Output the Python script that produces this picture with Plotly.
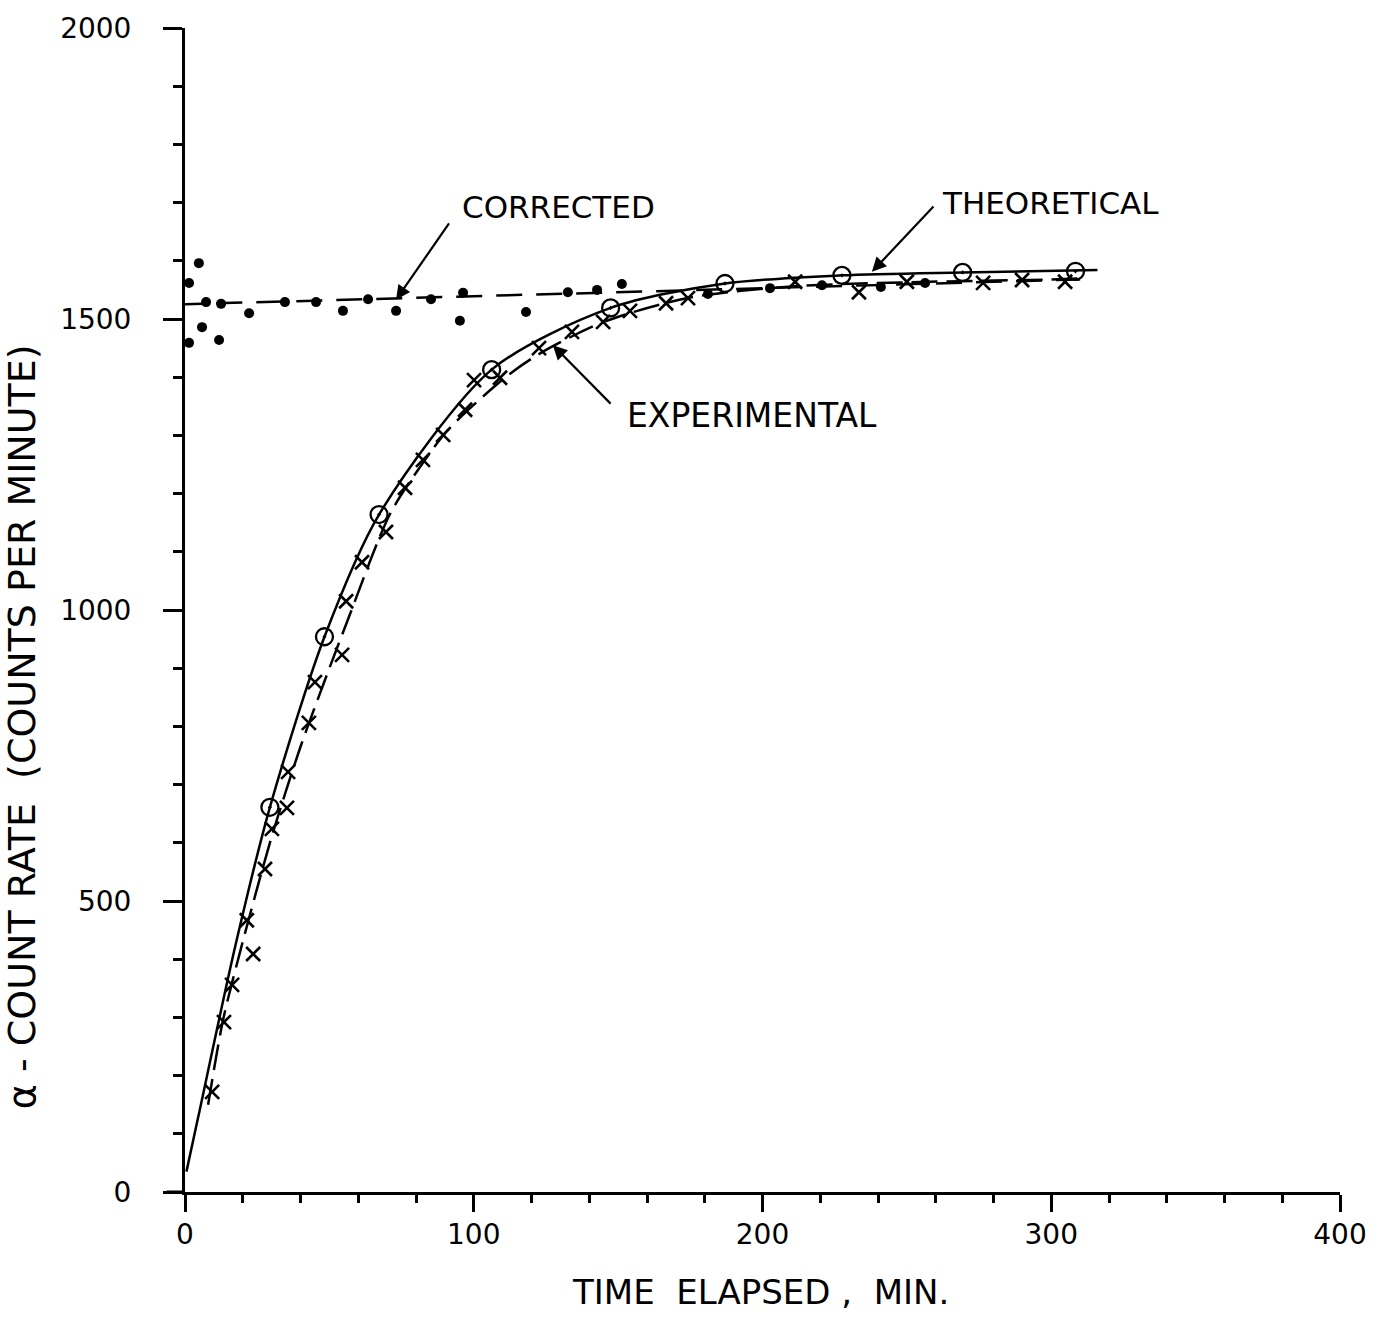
import plotly.graph_objects as go

# ---- data ----
# Corrected (dots)
corr_t = [1.4, 4.8, 7.3, 5.9, 1.4, 12.5, 11.8, 22.2, 34.6, 45.4, 54.7, 63.4, 73.1, 85.2, 96.3, 95.2,
          118.1, 132.6, 142.7, 151.3, 181.1, 202.6, 220.6, 241.0, 256.3]
corr_v = [1562, 1596, 1529, 1486, 1459, 1526, 1464, 1510, 1529, 1529, 1514, 1534, 1514, 1534, 1545, 1497,
          1512, 1546, 1550, 1560, 1543, 1553, 1558, 1555, 1562]
corr_line_t = [-3, 310]
corr_line_v = [1525, 1568]

# Theoretical (circled dots) and its curve
theo_t = [29.4, 48.3, 67.2, 106.2, 147.4, 187.0, 227.5, 269.3, 308.4]
theo_v = [661, 954, 1164, 1413, 1519, 1561, 1575, 1580, 1582]
theo_line_t = [0.5, 4.5, 17.3, 29.4, 48.3, 67.2, 106.2, 147.4, 187.0, 227.5, 269.3, 316]
theo_line_v = [35, 127, 420, 661, 954, 1164, 1413, 1519, 1561, 1575, 1580, 1584]

# Experimental (crosses) and its curve
exp_t = [9.4, 13.5, 16.3, 21.4, 23.6, 27.7, 30.1, 35.3, 35.7, 42.9, 45.0, 54.4, 55.8, 61.3, 69.6, 76.2,
         82.4, 89.4, 97.0, 100.1, 109.1, 122.6, 134.0, 144.8, 154.1, 166.6, 174.2, 211.3, 233.4, 250.0,
         276.4, 289.9, 304.8]
exp_v = [172, 292, 356, 467, 409, 555, 624, 660, 722, 806, 876, 923, 1015, 1082, 1134, 1210,
         1258, 1301, 1344, 1395, 1399, 1450, 1478, 1495, 1514, 1527, 1536, 1564, 1546, 1564,
         1562, 1567, 1564]
exp_line_t = [8, 13.2, 20, 30, 40, 50, 56, 71, 82, 91, 111, 123, 145, 174, 210, 250, 300, 312]
exp_line_v = [150, 296, 430, 610, 765, 900, 978, 1165, 1250, 1309, 1400, 1441, 1495, 1536, 1556, 1563, 1568, 1570]

x_ticks = [0, 100, 200, 300, 400]
y_ticks = [0, 500, 1000, 1500, 2000]

FONT = "DejaVu Sans"
BLACK = "black"

fig = go.Figure()

# curves
fig.add_trace(go.Scatter(x=corr_line_t, y=corr_line_v, mode="lines",
                         line=dict(color=BLACK, width=2.5, dash="26px,14px"), cliponaxis=False))
fig.add_trace(go.Scatter(x=theo_line_t, y=theo_line_v, mode="lines",
                         line=dict(color=BLACK, width=2.5, shape="spline", smoothing=0.8), cliponaxis=False))
fig.add_trace(go.Scatter(x=exp_line_t, y=exp_line_v, mode="lines",
                         line=dict(color=BLACK, width=2.5, dash="26px,9px", shape="spline", smoothing=0.8),
                         cliponaxis=False))

# markers
fig.add_trace(go.Scatter(x=corr_t, y=corr_v, mode="markers",
                         marker=dict(symbol="circle", size=10, color=BLACK), cliponaxis=False))
fig.add_trace(go.Scatter(x=theo_t, y=theo_v, mode="markers",
                         marker=dict(symbol="circle-open-dot", size=17, color=BLACK,
                                     line=dict(color=BLACK, width=2.3)), cliponaxis=False))
fig.add_trace(go.Scatter(x=exp_t, y=exp_v, mode="markers",
                         marker=dict(symbol="x-thin-open", size=14, color=BLACK,
                                     line=dict(color=BLACK, width=2.6)), cliponaxis=False))

ann_font = dict(family=FONT, size=31, color=BLACK)
annotations = [
    # labels
    dict(x=95.2, y=1692, xref="x", yref="y", text="CORRECTED", showarrow=False,
         xanchor="left", yanchor="middle", font=ann_font),
    dict(x=261.5, y=1699, xref="x", yref="y", text="THEORETICAL", showarrow=False,
         xanchor="left", yanchor="middle", font=ann_font),
    dict(x=152.4, y=1335, xref="x", yref="y", text="EXPERIMENTAL", showarrow=False,
         xanchor="left", yanchor="middle", font=dict(family=FONT, size=33, color=BLACK)),
    # arrows
    dict(x=73.1, y=1533, ax=91.8, ay=1667, xref="x", yref="y", axref="x", ayref="y",
         text="", showarrow=True, arrowhead=2, arrowsize=1.3, arrowwidth=2.2, arrowcolor=BLACK),
    dict(x=237.9, y=1581, ax=259.7, ay=1696, xref="x", yref="y", axref="x", ayref="y",
         text="", showarrow=True, arrowhead=2, arrowsize=1.3, arrowwidth=2.2, arrowcolor=BLACK),
    dict(x=127.4, y=1455, ax=147.9, ay=1352, xref="x", yref="y", axref="x", ayref="y",
         text="", showarrow=True, arrowhead=2, arrowsize=1.3, arrowwidth=2.2, arrowcolor=BLACK),
    # axis titles
    dict(x=0.4987, y=-0.086, xref="paper", yref="paper", text="TIME  ELAPSED ,  MIN.",
         showarrow=False, xanchor="center", yanchor="middle",
         font=dict(family=FONT, size=34, color=BLACK)),
    dict(x=-0.141, y=0.3995, xref="paper", yref="paper",
         text="\u03b1 - COUNT RATE  (COUNTS PER MINUTE)", textangle=-90,
         showarrow=False, xanchor="center", yanchor="middle",
         font=dict(family=FONT, size=38, color=BLACK)),
]

fig.update_layout(
    width=1383, height=1320,
    margin=dict(l=185, r=43, t=28, b=128),
    paper_bgcolor="white", plot_bgcolor="white",
    showlegend=False,
    annotations=annotations,
    shapes=[dict(type="line", xref="paper", yref="paper", x0=-0.016, x1=0, y0=0, y1=0,
                 line=dict(color=BLACK, width=3))],
    font=dict(family=FONT, color=BLACK),
)

fig.update_xaxes(range=[0, 400], tickvals=x_ticks, ticktext=[str(v) for v in x_ticks],
                 showgrid=False, zeroline=False, showline=True, linecolor=BLACK, linewidth=3,
                 ticks="outside", ticklen=17, tickwidth=2.5, tickcolor=BLACK,
                 tickfont=dict(family=FONT, size=28, color=BLACK), ticklabelstandoff=-2,
                 minor=dict(dtick=20, ticks="outside", ticklen=8, tickwidth=2.5, tickcolor=BLACK,
                            showgrid=False))
fig.update_yaxes(range=[0, 2000], tickvals=y_ticks, ticktext=[str(v) for v in y_ticks],
                 showgrid=False, zeroline=False, showline=True, linecolor=BLACK, linewidth=3,
                 ticks="outside", ticklen=19, tickwidth=2.5, tickcolor=BLACK,
                 tickfont=dict(family=FONT, size=28, color=BLACK), ticklabelstandoff=26,
                 minor=dict(dtick=100, ticks="outside", ticklen=9, tickwidth=2.5, tickcolor=BLACK,
                            showgrid=False))

fig.write_html("out.html")
